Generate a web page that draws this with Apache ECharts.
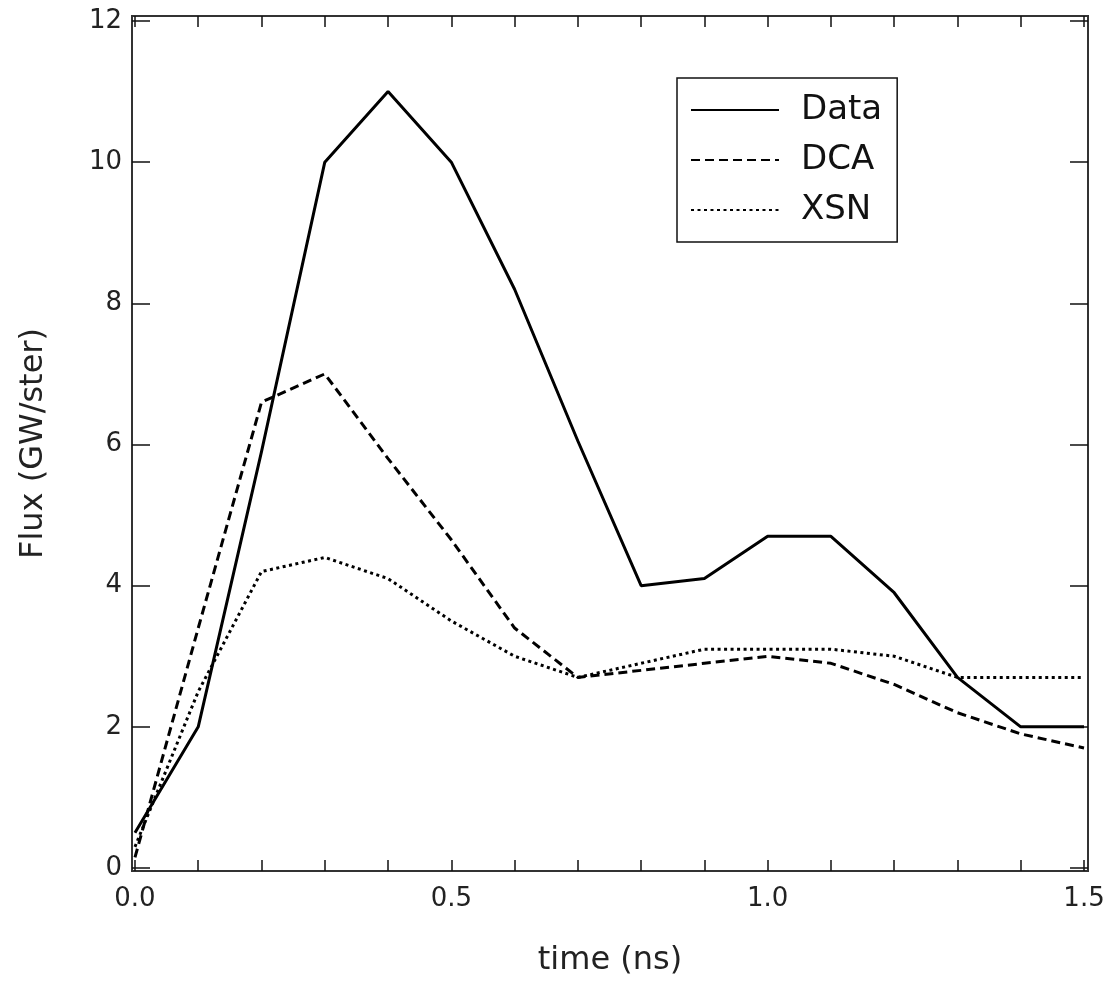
<!DOCTYPE html>
<html>
<head>
<meta charset="utf-8">
<script src="https://cdn.jsdelivr.net/npm/echarts@6/dist/echarts.min.js"></script>
<style>
html,body{margin:0;padding:0;background:#fff;}
#chart{width:1112px;height:983px;}
</style>
</head>
<body>
<div id="chart"></div>
<script>
const times = [0.0,0.1,0.2,0.3,0.4,0.5,0.6,0.7,0.8,0.9,1.0,1.1,1.2,1.3,1.4,1.5];
const dataVals = [0.5,2.0,5.9,10.0,11.0,10.0,8.2,6.05,4.0,4.1,4.7,4.7,3.9,2.7,2.0,2.0];
const dcaVals  = [0.15,3.4,6.6,7.0,5.8,4.65,3.4,2.7,2.8,2.9,3.0,2.9,2.6,2.2,1.9,1.7];
const xsnVals  = [0.3,2.5,4.2,4.4,4.1,3.5,3.0,2.7,2.9,3.1,3.1,3.1,3.0,2.7,2.7,2.7];
const seriesNames = ['Data','DCA','XSN'];
const xTickVals = [0,0.1,0.2,0.3,0.4,0.5,0.6,0.7,0.8,0.9,1.0,1.1,1.2,1.3,1.4,1.5];
const xLabelVals = [0,0.5,1.0,1.5];
const yTickVals = [0,2,4,6,8,10,12];

const FONT = 'DejaVu Sans';
const pairs = arr => times.map((t,i)=>[t,arr[i]]);

const frame = {show:true, onZero:false, lineStyle:{color:'#333', width:2}};
const tickStyle = {color:'#111', width:1.5};
const chart = echarts.init(document.getElementById('chart'), null, {renderer:'canvas'});
chart.setOption({
  animation:false,
  backgroundColor:'#fff',
  grid:{left:132, right:24, top:16, bottom:112, containLabel:false,
        show:true, borderColor:'#333', borderWidth:2, backgroundColor:'transparent'},
  legend:{
    orient:'vertical', left:677, top:78,
    data:seriesNames,
    itemWidth:88, itemHeight:14, itemGap:16,
    padding:[15,15,15,13],
    borderColor:'#111', borderWidth:1.5,
    itemStyle:{opacity:0, borderWidth:0},
    textStyle:{fontFamily:FONT, fontSize:34, color:'#111', lineHeight:34, padding:[0,0,0,17]}
  },
  xAxis:[{
    type:'value', min:-0.0047, max:1.5063, position:'bottom',
    axisLine:frame,
    splitLine:{show:false},
    axisTick:{show:true, inside:true, length:11, customValues:xTickVals, lineStyle:tickStyle},
    axisLabel:{show:true, customValues:xLabelVals, margin:15, fontFamily:FONT, fontSize:26, color:'#222',
      formatter:v=>Number(v).toFixed(1)},
    name:'time (ns)', nameLocation:'middle', nameGap:74,
    nameTextStyle:{fontFamily:FONT, fontSize:32, color:'#222'}
  },{
    type:'value', min:-0.0047, max:1.5063, position:'top',
    axisLine:frame, splitLine:{show:false},
    axisTick:{show:true, inside:true, length:11, customValues:xTickVals, lineStyle:tickStyle},
    axisLabel:{show:false, customValues:xLabelVals}
  }],
  yAxis:[{
    type:'value', min:-0.0425, max:12.071, position:'left',
    axisLine:frame, splitLine:{show:false},
    axisTick:{show:true, inside:true, length:18, customValues:yTickVals, lineStyle:tickStyle},
    axisLabel:{show:true, customValues:yTickVals, margin:10, fontFamily:FONT, fontSize:26, color:'#222'},
    name:'Flux (GW/ster)', nameLocation:'middle', nameGap:82,
    nameTextStyle:{fontFamily:FONT, fontSize:32, color:'#222'}
  },{
    type:'value', min:-0.0425, max:12.071, position:'right',
    axisLine:frame, splitLine:{show:false},
    axisTick:{show:true, inside:true, length:18, customValues:yTickVals, lineStyle:tickStyle},
    axisLabel:{show:false, customValues:yTickVals}
  }],
  series:[
    {name:seriesNames[0], type:'line', data:pairs(dataVals), symbol:'none',
     lineStyle:{color:'#000', width:3, type:'solid'}, itemStyle:{color:'#000'}},
    {name:seriesNames[1], type:'line', data:pairs(dcaVals), symbol:'none',
     lineStyle:{color:'#000', width:3, type:[9,5]}, itemStyle:{color:'#000'}},
    {name:seriesNames[2], type:'line', data:pairs(xsnVals), symbol:'none',
     lineStyle:{color:'#000', width:3, type:[3,3.5]}, itemStyle:{color:'#000'}},
    {name:'mirror', type:'line', xAxisIndex:1, yAxisIndex:1, data:pairs(dataVals), symbol:'none',
     silent:true, lineStyle:{opacity:0}, itemStyle:{opacity:0}, tooltip:{show:false}}
  ]
});
</script>
</body>
</html>
